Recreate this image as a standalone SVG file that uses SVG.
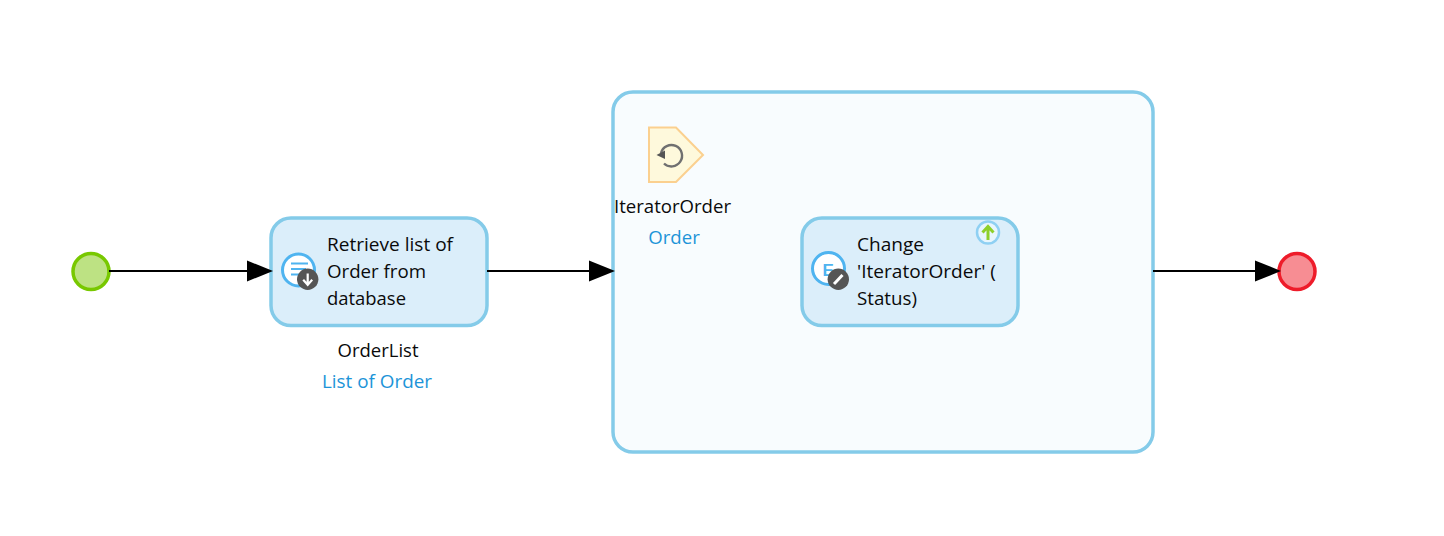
<svg xmlns="http://www.w3.org/2000/svg" width="1444" height="536" viewBox="0 0 1444 536">
<style>
.t{font-family:"Segoe UI","Open Sans","Noto Sans","Liberation Sans",sans-serif;font-size:18.6px;fill:#0a0a0a}
.b{fill:#1d94d8}
.m{text-anchor:middle}
.act{fill:#dbeefa;stroke:#84cbe9;stroke-width:3.5}
.ring{fill:#fff;stroke:#4fb4f0;stroke-width:3}
.bd{fill:#555}
.line{fill:none;stroke:#000;stroke-width:2}
.head{fill:#000}
</style>
<rect width="1444" height="536" fill="#fff"/>
<g id="loop"><rect x="613" y="92" width="540" height="360" rx="20" fill="#f8fcfe" stroke="#84cbe9" stroke-width="3.5"/></g>
<g id="start"><circle cx="91" cy="271.500" r="18" fill="#bde283" stroke="#78c800" stroke-width="3.500"/></g>
<g id="end"><circle cx="1297" cy="271.500" r="18" fill="#f78d93" stroke="#ee1c2a" stroke-width="3.500"/></g>
<g id="retrieve">
<rect class="act" x="271" y="218" width="216" height="107.500" rx="20"/>
<circle class="ring" cx="298.500" cy="270" r="16"/>
<path d="M291 263.500H308M291 269H306M291 274.500H300" fill="none" stroke="#4fb4f0" stroke-width="2.200"/>
<circle class="bd" cx="307.700" cy="279.300" r="10.700"/>
<path d="M307.700 273.500V284M303.200 279.800L307.700 284.800L312.200 279.800" fill="none" stroke="#fff" stroke-width="2.200"/>
<text class="t" x="327" y="251" textLength="126" lengthAdjust="spacingAndGlyphs">Retrieve list of</text>
<text class="t" x="327" y="278" textLength="99" lengthAdjust="spacingAndGlyphs">Order from</text>
<text class="t" x="327" y="305" textLength="79" lengthAdjust="spacingAndGlyphs">database</text>
<text class="t" x="337.500" y="357" textLength="81" lengthAdjust="spacingAndGlyphs">OrderList</text>
<text class="t b" x="322" y="388" textLength="110" lengthAdjust="spacingAndGlyphs">List of Order</text>
</g>
<g id="iterator">
<path d="M649 127.500H676L703 155L676 182H649Z" fill="#fef9dc" stroke="#fbd08f" stroke-width="2"/>
<path d="M661 153A10.700 10.700 0 1 1 664 163.500" fill="none" stroke="#707070" stroke-width="2.400"/>
<path d="M656.500 155L665 150.500V159Z" fill="#555"/>
<text class="t m" x="672.500" y="213">IteratorOrder</text>
<text class="t b m" x="674" y="244">Order</text>
</g>
<g id="change">
<rect class="act" x="802" y="218" width="216" height="107.500" rx="20"/>
<circle class="ring" cx="828.500" cy="268.500" r="16"/>
<text x="822.500" y="276" font-family="Liberation Sans,sans-serif" font-size="17" font-weight="700" fill="#4fb4f0">E</text>
<circle class="bd" cx="838.300" cy="279.300" r="10.700"/>
<path d="M834 284L842.500 275" fill="none" stroke="#fff" stroke-width="3"/>
<circle cx="988" cy="232.500" r="11" fill="#e8f6fd" stroke="#8fd0f3" stroke-width="2.500"/>
<path d="M988 240V227M982.500 232.500L988 226.500L993.500 232.500" fill="none" stroke="#8ed02a" stroke-width="3"/>
<text class="t" x="857" y="251" textLength="67" lengthAdjust="spacingAndGlyphs">Change</text>
<text class="t" x="857" y="278" textLength="139" lengthAdjust="spacingAndGlyphs">'IteratorOrder' (</text>
<text class="t" x="857" y="305" textLength="60" lengthAdjust="spacingAndGlyphs">Status)</text>
</g>
<g id="connectors">
<path class="line" d="M109 271H250"/><path class="head" d="M247 260.500L273 271L247 281.500Z"/>
<path class="line" d="M487 271H592"/><path class="head" d="M589 260.500L615 271L589 281.500Z"/>
<path class="line" d="M1153 271H1258"/><path class="head" d="M1255 260.500L1281 271L1255 281.500Z"/>
</g>
</svg>
